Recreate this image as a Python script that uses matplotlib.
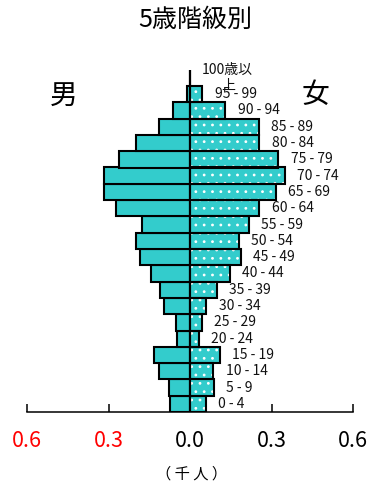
import matplotlib
matplotlib.use("Agg")
import matplotlib.pyplot as plt
import numpy as np

plt.rcParams['font.family'] = ['Noto Sans CJK JP', 'DejaVu Sans']
plt.rcParams['hatch.linewidth'] = 0.8

# 5-year age groups, youngest first (thousand people)
AGE_LABELS = ["0 - 4", "5 - 9", "10 - 14", "15 - 19", "20 - 24", "25 - 29",
              "30 - 34", "35 - 39", "40 - 44", "45 - 49", "50 - 54", "55 - 59",
              "60 - 64", "65 - 69", "70 - 74", "75 - 79", "80 - 84", "85 - 89",
              "90 - 94", "95 - 99", "100歳以\n上"]
MALE = [0.072, 0.076, 0.113, 0.134, 0.047, 0.053, 0.094, 0.109, 0.143, 0.183,
        0.197, 0.178, 0.273, 0.315, 0.317, 0.262, 0.199, 0.113, 0.061, 0.010, 0.0]
FEMALE = [0.058, 0.087, 0.086, 0.111, 0.033, 0.044, 0.060, 0.099, 0.147, 0.186,
          0.179, 0.217, 0.255, 0.316, 0.349, 0.325, 0.255, 0.253, 0.130, 0.046, 0.0]
TICKS = [-0.6, -0.3, 0.0, 0.3, 0.6]
TICK_LABELS = ["0.6", "0.3", "0.0", "0.3", "0.6"]

BAR_COLOR = "#33cccc"

fig = plt.figure(figsize=(3.7, 4.88), dpi=100)
ax = fig.add_axes([27 / 370, 76 / 488, 326 / 370, 342.3 / 488])

y = np.arange(len(AGE_LABELS))
male = np.array(MALE)
female = np.array(FEMALE)

ax.barh(y, -male, height=1, align='edge', color=BAR_COLOR,
        edgecolor='black', linewidth=1.5, zorder=2)
# dotted fill for women, then black outline on top
ax.barh(y, female, height=1, align='edge', color=BAR_COLOR,
        edgecolor='white', linewidth=0, hatch='..', zorder=2)
ax.barh(y, female, height=1, align='edge', fill=False,
        edgecolor='black', linewidth=1.5, zorder=3)

ax.axvline(0, color='black', linewidth=1.5, zorder=4)

for yi, f, lab in zip(y, female, AGE_LABELS):
    ax.text(f + 0.045, yi + 0.5, lab, fontsize=10, ha='left', va='center',
            linespacing=1.15, multialignment='center', color='#111111')

ax.set_xlim(-0.6, 0.6)
ax.set_ylim(0, len(AGE_LABELS))
for s in ['top', 'right', 'left']:
    ax.spines[s].set_visible(False)
ax.spines['bottom'].set_linewidth(1.1)
ax.set_yticks([])
ax.set_xticks(TICKS)
ax.set_xticklabels(TICK_LABELS, fontsize=15.5)
ax.tick_params(axis='x', direction='in', length=6, width=1.1, pad=13)
for t, v in zip(ax.get_xticklabels(), TICKS):
    t.set_color('red' if v < 0 else 'black')

fig.text(195 / 370, 1 - 20 / 488, "5歳階級別", fontsize=18, ha='center', va='center')
fig.text(64 / 370, 1 - 96 / 488, "男", fontsize=20, ha='center', va='center')
fig.text(315 / 370, 1 - 95 / 488, "女", fontsize=20, ha='center', va='center')
fig.text(192 / 370, 1 - 474 / 488, "（ 千 人 ）", fontsize=11, ha='center', va='center')

fig.savefig("out.png", dpi=100, facecolor='white')
